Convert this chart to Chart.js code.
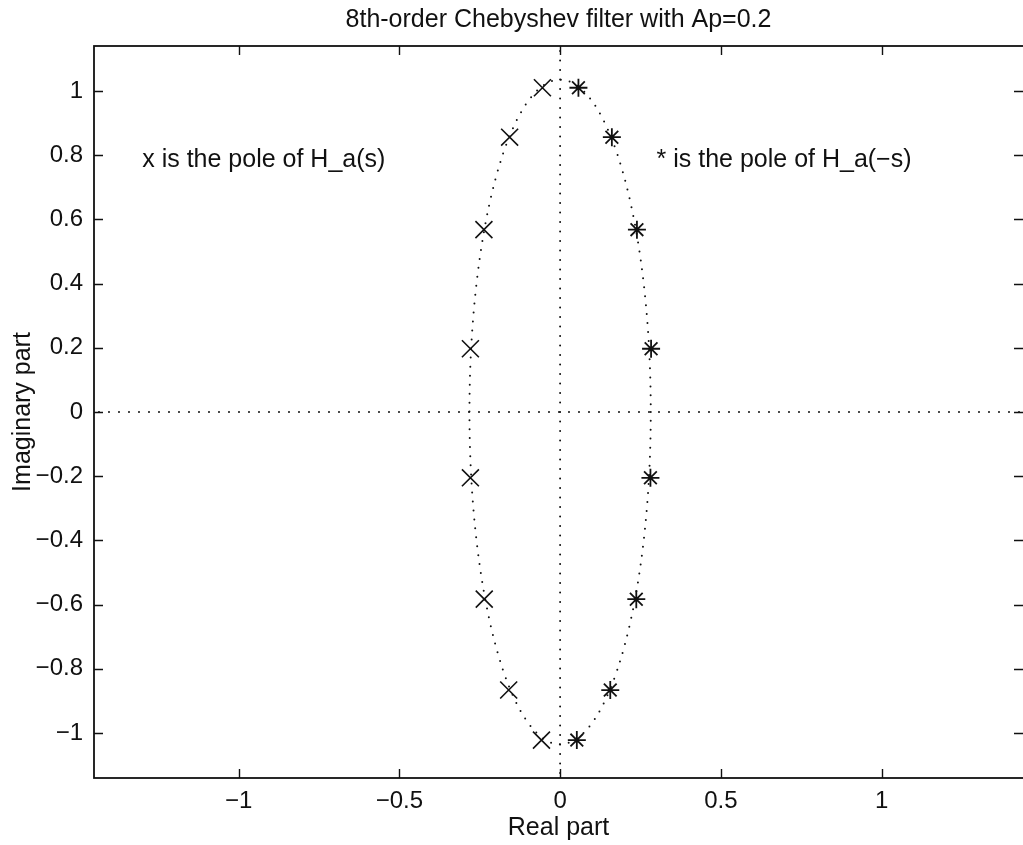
<!DOCTYPE html>
<html>
<head>
<meta charset="utf-8">
<script src="https://cdn.jsdelivr.net/npm/chart.js@4/dist/chart.umd.min.js"></script>
<style>
  html, body { margin: 0; padding: 0; background: #ffffff; }
  #wrap { width: 1023px; height: 845px; }
</style>
</head>
<body>
<div id="wrap"><canvas id="c" width="1023" height="845"></canvas></div>
<script>
// Chebyshev poles: left half-plane (H_a(s)) and mirrored right half-plane (H_a(-s))
const titleText = '8th-order Chebyshev filter with Ap=0.2';
const xAxisTitle = 'Real part';
const yAxisTitle = 'Imaginary part';

const poleRealHs  = [-0.055, -0.157, -0.237, -0.279, -0.279, -0.236, -0.160, -0.058];
const poleImagHs  = [ 1.010,  0.856,  0.568,  0.197, -0.205, -0.583, -0.866, -1.022];
const poleRealHms = [ 0.057,  0.161,  0.239,  0.283,  0.281,  0.237,  0.156,  0.052];
const poleImagHms = [ 1.010,  0.856,  0.568,  0.197, -0.205, -0.583, -0.866, -1.022];

// semi-axes of the ellipse the poles lie on: [real, imaginary]
const ellipseSemiAxes = [0.282, 1.035];

const xTickValues = [-1, -0.5, 0, 0.5, 1];
const xTickLabels = ['\u22121', '\u22120.5', '0', '0.5', '1'];
const yTickValues = [-1, -0.8, -0.6, -0.4, -0.2, 0, 0.2, 0.4, 0.6, 0.8, 1];
const yTickLabels = ['\u22121', '\u22120.8', '\u22120.6', '\u22120.4', '\u22120.2', '0',
                     '0.2', '0.4', '0.6', '0.8', '1'];

const noteTexts   = ['x is the pole of H_a(s)', '* is the pole of H_a(\u2212s)'];
const noteAnchorX = [-1.3, 0.3];
const noteAnchorY = [0.8, 0.8];

// ---------------------------------------------------------------
const FONT = '"Liberation Sans", Arial, Helvetica, sans-serif';
const INK = '#111111';
const TICK_LEN = 9;
const NOTE_DROP = 5;   // text is vertically centred on its full extent, not the em box

function toPoints(xs, ys) {
  return xs.map((x, i) => ({ x: x, y: ys[i] }));
}

// frame, inward ticks, dotted reference lines, ellipse and notes
const framePlugin = {
  id: 'framePlugin',
  beforeDatasetsDraw(chart) {
    const { ctx, chartArea: a, scales: { x, y } } = chart;
    const x0 = x.getPixelForValue(0);
    const y0 = y.getPixelForValue(0);
    ctx.save();
    ctx.strokeStyle = INK;
    ctx.lineWidth = 2;
    ctx.lineCap = 'round';
    ctx.setLineDash([0, 10]);
    ctx.beginPath();
    ctx.moveTo(a.left + 5, y0);
    ctx.lineTo(a.right, y0);
    ctx.stroke();
    ctx.setLineDash([0, 9.5]);
    ctx.beginPath();
    ctx.moveTo(x0, a.top + 5);
    ctx.lineTo(x0, a.bottom);
    ctx.stroke();
    const rx = Math.abs(x.getPixelForValue(ellipseSemiAxes[0]) - x0);
    const ry = Math.abs(y.getPixelForValue(ellipseSemiAxes[1]) - y0);
    ctx.setLineDash([0, 9]);
    ctx.beginPath();
    ctx.ellipse(x0, y0, rx, ry, 0, 0, Math.PI * 2);
    ctx.stroke();
    ctx.restore();
  },
  afterDatasetsDraw(chart) {
    const { ctx, chartArea: a, scales: { x, y } } = chart;
    ctx.save();
    ctx.strokeStyle = INK;
    ctx.lineWidth = 1.8;
    ctx.setLineDash([]);
    ctx.strokeRect(a.left, a.top, a.right - a.left + 6, a.bottom - a.top);
    ctx.lineWidth = 1.4;
    ctx.beginPath();
    xTickValues.forEach(v => {
      const px = Math.round(x.getPixelForValue(v)) + 0.5;
      ctx.moveTo(px, a.bottom); ctx.lineTo(px, a.bottom - TICK_LEN);
      ctx.moveTo(px, a.top);    ctx.lineTo(px, a.top + TICK_LEN);
    });
    yTickValues.forEach(v => {
      const py = Math.round(y.getPixelForValue(v)) + 0.5;
      ctx.moveTo(a.left, py);  ctx.lineTo(a.left + TICK_LEN, py);
      ctx.moveTo(a.right, py); ctx.lineTo(a.right - TICK_LEN, py);
    });
    ctx.stroke();
    ctx.fillStyle = INK;
    ctx.font = '25px ' + FONT;
    ctx.textAlign = 'left';
    ctx.textBaseline = 'middle';
    noteTexts.forEach((t, i) => {
      ctx.fillText(t, x.getPixelForValue(noteAnchorX[i]),
                   y.getPixelForValue(noteAnchorY[i]) + NOTE_DROP);
    });
    ctx.restore();
  }
};

new Chart(document.getElementById('c'), {
  type: 'scatter',
  data: {
    datasets: [
      {
        label: 'H_a(s)',
        data: toPoints(poleRealHs, poleImagHs),
        pointStyle: 'crossRot',
        pointRadius: 12,
        pointBorderWidth: 1.6,
        borderColor: INK,
        backgroundColor: INK,
        showLine: false
      },
      {
        label: 'H_a(-s)',
        data: toPoints(poleRealHms, poleImagHms),
        pointStyle: 'star',
        pointRadius: 9,
        pointBorderWidth: 1.8,
        borderColor: INK,
        backgroundColor: INK,
        showLine: false
      }
    ]
  },
  options: {
    responsive: false,
    animation: false,
    devicePixelRatio: 1,
    layout: { autoPadding: false, padding: { left: 0, right: 0, top: 0, bottom: 0 } },
    plugins: {
      legend: { display: false },
      tooltip: { enabled: false },
      title: {
        display: true,
        fullSize: false,
        text: titleText,
        color: INK,
        font: { family: FONT, size: 25, weight: 'normal' },
        padding: { top: 5, bottom: 11 }
      }
    },
    scales: {
      x: {
        type: 'linear',
        position: 'bottom',
        min: -1.45,
        max: 1.44,
        grid: { display: false, drawTicks: false },
        border: { display: false },
        afterBuildTicks: s => { s.ticks = xTickValues.map(v => ({ value: v })); },
        afterFit: s => { s.height = 67; },
        ticks: {
          autoSkip: false,
          maxRotation: 0,
          padding: 9,
          color: INK,
          font: { family: FONT, size: 24 },
          callback: (v, i) => xTickLabels[i]
        },
        title: {
          display: true,
          text: xAxisTitle,
          color: INK,
          font: { family: FONT, size: 25 },
          padding: { top: 2, bottom: 2 }
        }
      },
      y: {
        type: 'linear',
        position: 'left',
        min: -1.14,
        max: 1.14,
        grid: { display: false, drawTicks: false },
        border: { display: false },
        afterBuildTicks: s => { s.ticks = yTickValues.map(v => ({ value: v })); },
        afterFit: s => { s.width = 94; },
        ticks: {
          autoSkip: false,
          padding: 11,
          color: INK,
          font: { family: FONT, size: 24 },
          callback: (v, i) => yTickLabels[i]
        },
        title: {
          display: true,
          text: yAxisTitle,
          color: INK,
          font: { family: FONT, size: 25 },
          padding: { top: 8, bottom: 8 }
        }
      }
    }
  },
  plugins: [framePlugin]
});
</script>
</body>
</html>
